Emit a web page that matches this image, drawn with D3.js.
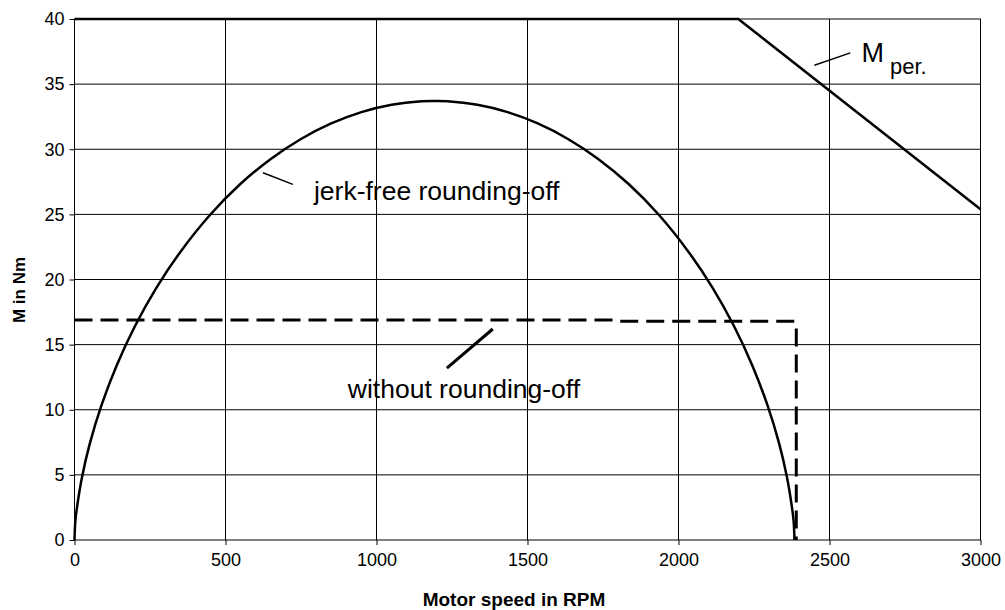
<!DOCTYPE html>
<html>
<head>
<meta charset="utf-8">
<script src="https://cdn.jsdelivr.net/npm/d3@7"></script>
<style>
  body { margin: 0; background: #fff; }
  svg { display: block; font-family: "Liberation Sans", Arial, sans-serif; }
</style>
</head>
<body>
<svg id="chart" width="1005" height="610"></svg>
<script>
// data
const xTicks = [0, 500, 1000, 1500, 2000, 2500, 3000];
const yTicks = [0, 5, 10, 15, 20, 25, 30, 35, 40];

const jerkRpm = [0, 3, 10, 25, 50, 90, 140, 200, 270, 350, 450, 550, 650, 750, 850, 950, 1050, 1150, 1192,
  1234, 1334, 1434, 1534, 1634, 1734, 1834, 1934, 2034, 2114, 2184, 2244, 2294, 2334, 2359, 2374, 2381, 2384];
const jerkM = [0, 1.5, 2.78, 4.84, 7.34, 10.39, 13.42, 16.41, 19.32, 22.1, 24.99, 27.35, 29.26, 30.79, 31.98, 32.85, 33.41, 33.68, 33.7,
  33.68, 33.41, 32.85, 31.98, 30.79, 29.26, 27.35, 24.99, 22.1, 19.32, 16.41, 13.42, 10.39, 7.34, 4.84, 2.78, 1.5, 0];

const plainRpm = [0, 1790, 1800, 2384, 2390, 2390];
const plainM = [16.9, 16.9, 16.8, 16.8, 16.6, 0];

const perRpm = [0, 2198, 3000];
const perM = [40, 40, 25.4];

// annotation leaders [rpm, M]
const perLeader = [[2450, 36.45], [2569, 37.4]];
const jerkLeader = [[624, 28.2], [723, 27.3]];
const plainLeader = [[1233, 13.2], [1385, 16.2]];

const svg = d3.select("#chart");
const mLeft = 74.5, mRight = 980.5, mTop = 19, mBottom = 540;

const x = d3.scaleLinear().domain([0, 3000]).range([mLeft, mRight]);
const y = d3.scaleLinear().domain([0, 40]).range([mBottom, mTop]);

// grid
svg.append("g")
  .selectAll("line.gx")
  .data(xTicks.slice(1, -1)).enter()
  .append("line")
  .attr("x1", d => x(d)).attr("x2", d => x(d))
  .attr("y1", mTop).attr("y2", mBottom)
  .attr("stroke", "#000").attr("stroke-width", 1);
svg.append("g")
  .selectAll("line.gy")
  .data(yTicks.slice(1, -1)).enter()
  .append("line")
  .attr("x1", mLeft).attr("x2", mRight)
  .attr("y1", d => y(d)).attr("y2", d => y(d))
  .attr("stroke", "#000").attr("stroke-width", 1);

svg.append("rect")
  .attr("x", mLeft).attr("y", mTop)
  .attr("width", mRight - mLeft).attr("height", mBottom - mTop)
  .attr("fill", "none").attr("stroke", "#000").attr("stroke-width", 1);

// axes
const xAxis = svg.append("g")
  .attr("transform", "translate(0," + mBottom + ")")
  .call(d3.axisBottom(x).tickValues(xTicks).tickFormat(d3.format("d")).tickSize(5).tickPadding(8));
const yAxis = svg.append("g")
  .attr("transform", "translate(" + mLeft + ",0)")
  .call(d3.axisLeft(y).tickValues(yTicks).tickFormat(d3.format("d")).tickSize(5).tickPadding(5));
[xAxis, yAxis].forEach(g => {
  g.select(".domain").remove();
  g.selectAll("line").attr("stroke", "#000");
  g.selectAll("text").attr("font-size", 18).attr("fill", "#000")
    .attr("font-family", "Liberation Sans, Arial, sans-serif");
});

// lines
const line = d3.line().x(d => x(d[0])).y(d => y(d[1]));

svg.append("path")
  .datum(perRpm.map((r, i) => [r, perM[i]]))
  .attr("d", line)
  .attr("fill", "none").attr("stroke", "#000").attr("stroke-width", 2.5);

svg.append("path")
  .datum(jerkRpm.map((r, i) => [r, jerkM[i]]))
  .attr("d", d3.line().x(d => x(d[0])).y(d => y(d[1])).curve(d3.curveCatmullRom.alpha(0.5)))
  .attr("fill", "none").attr("stroke", "#000").attr("stroke-width", 2.5);

svg.append("path")
  .datum(plainRpm.map((r, i) => [r, plainM[i]]))
  .attr("d", line)
  .attr("fill", "none").attr("stroke", "#000").attr("stroke-width", 3)
  .attr("stroke-dasharray", "18,8");

// leaders
[[perLeader, 1.5], [jerkLeader, 1.5], [plainLeader, 3]].forEach(([pts, w]) => {
  svg.append("line")
    .attr("x1", x(pts[0][0])).attr("y1", y(pts[0][1]))
    .attr("x2", x(pts[1][0])).attr("y2", y(pts[1][1]))
    .attr("stroke", "#000").attr("stroke-width", w);
});

// labels
const per = svg.append("text")
  .attr("x", x(2606)).attr("y", y(36.7))
  .attr("font-size", 27).attr("fill", "#000");
per.append("tspan").text("M");
per.append("tspan").attr("dx", 6).attr("dy", 12).attr("font-size", 22).text("per.");

svg.append("text")
  .attr("x", x(793)).attr("y", y(26.1))
  .attr("font-size", 26.5).attr("fill", "#000")
  .text("jerk-free rounding-off");

svg.append("text")
  .attr("x", x(905)).attr("y", y(10.9))
  .attr("font-size", 26.5).attr("fill", "#000")
  .text("without rounding-off");

// axis titles
svg.append("text")
  .attr("x", 514).attr("y", 606)
  .attr("text-anchor", "middle")
  .attr("font-size", 19).attr("font-weight", "bold")
  .text("Motor speed in RPM");

svg.append("text")
  .attr("transform", "translate(25,290) rotate(-90)")
  .attr("text-anchor", "middle")
  .attr("font-size", 17).attr("font-weight", "bold")
  .text("M in Nm");
</script>
</body>
</html>
